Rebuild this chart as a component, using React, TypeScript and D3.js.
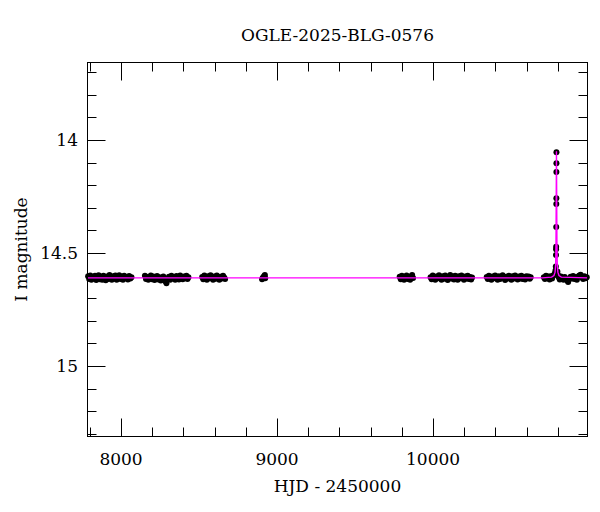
import React from "react";
import * as d3 from "d3";

// OGLE light curve: HJD - 2450000 vs I magnitude
const title = "OGLE-2025-BLG-0576";
const xLabel = "HJD - 2450000";
const yLabel = "I magnitude";

const xTickLabels = [8000, 9000, 10000];
const yTickLabels = [14, 14.5, 15];

// observations per season [hjd, mag]
const season1: [number, number][] = [
  [7789, 14.603], [7796, 14.615], [7803, 14.6], [7810, 14.618], [7818, 14.607], [7825, 14.612],
  [7833, 14.601], [7841, 14.62], [7848, 14.609], [7856, 14.599], [7864, 14.616], [7872, 14.605],
  [7879, 14.619], [7887, 14.601], [7894, 14.611], [7902, 14.621], [7910, 14.604], [7918, 14.615],
  [7926, 14.598], [7933, 14.61], [7941, 14.618], [7949, 14.603], [7956, 14.613], [7964, 14.6],
  [7972, 14.619], [7980, 14.607], [7988, 14.599], [7996, 14.615], [8004, 14.604], [8012, 14.618],
  [8020, 14.601], [8028, 14.611], [8036, 14.606], [8044, 14.617], [8052, 14.602], [8060, 14.613],
  [8067, 14.608],
];
const season2: [number, number][] = [
  [8153, 14.601], [8160, 14.615], [8167, 14.606], [8175, 14.619], [8183, 14.608], [8191, 14.6],
  [8199, 14.616], [8207, 14.604], [8215, 14.62], [8223, 14.61], [8231, 14.602], [8239, 14.617],
  [8247, 14.607], [8255, 14.622], [8263, 14.611], [8271, 14.604], [8279, 14.619], [8286, 14.626],
  [8291, 14.634], [8299, 14.614], [8307, 14.605], [8315, 14.618], [8323, 14.601], [8331, 14.612],
  [8339, 14.606], [8347, 14.619], [8355, 14.602], [8363, 14.61], [8371, 14.617], [8379, 14.6],
  [8387, 14.609], [8395, 14.616], [8403, 14.604], [8411, 14.612], [8419, 14.601], [8426, 14.615],
  [8432, 14.607],
];
const season3: [number, number][] = [
  [8520, 14.606], [8527, 14.616], [8534, 14.6], [8542, 14.61], [8550, 14.619], [8558, 14.603],
  [8566, 14.612], [8574, 14.599], [8582, 14.609], [8590, 14.618], [8598, 14.604], [8606, 14.614],
  [8614, 14.6], [8622, 14.61], [8630, 14.619], [8638, 14.605], [8646, 14.613], [8654, 14.601],
  [8661, 14.609], [8667, 14.615],
];
const season4: [number, number][] = [
  [8904, 14.616], [8908, 14.611], [8913, 14.606], [8918, 14.602], [8922, 14.598], [8924, 14.612],
];
const season5: [number, number][] = [
  [9786, 14.605], [9793, 14.616], [9800, 14.601], [9807, 14.612], [9814, 14.619], [9822, 14.606],
  [9830, 14.6], [9838, 14.615], [9846, 14.608], [9853, 14.618], [9860, 14.603], [9866, 14.598],
  [9872, 14.611],
];
const season6: [number, number][] = [
  [9984, 14.607], [9991, 14.616], [9998, 14.6], [10006, 14.61], [10014, 14.619], [10022, 14.604],
  [10030, 14.612], [10038, 14.599], [10046, 14.609], [10054, 14.618], [10062, 14.603], [10070, 14.614],
  [10078, 14.6], [10086, 14.61], [10094, 14.62], [10102, 14.606], [10110, 14.598], [10118, 14.613],
  [10126, 14.604], [10134, 14.617], [10142, 14.601], [10150, 14.609], [10158, 14.619], [10166, 14.603],
  [10174, 14.612], [10182, 14.6], [10190, 14.608], [10198, 14.618], [10206, 14.604], [10214, 14.613],
  [10222, 14.601], [10230, 14.615], [10237, 14.606], [10244, 14.617], [10250, 14.609],
];
const season7: [number, number][] = [
  [10344, 14.606], [10351, 14.615], [10358, 14.601], [10366, 14.61], [10374, 14.619], [10382, 14.604],
  [10390, 14.612], [10398, 14.6], [10406, 14.609], [10414, 14.618], [10422, 14.603], [10430, 14.615],
  [10438, 14.607], [10446, 14.599], [10454, 14.61], [10462, 14.62], [10470, 14.605], [10478, 14.613],
  [10486, 14.601], [10494, 14.609], [10502, 14.618], [10510, 14.603], [10518, 14.613], [10526, 14.6],
  [10534, 14.608], [10542, 14.617], [10550, 14.604], [10558, 14.613], [10566, 14.601], [10574, 14.615],
  [10582, 14.606], [10590, 14.617], [10598, 14.603], [10606, 14.61], [10613, 14.604], [10620, 14.614],
  [10626, 14.608],
];
const season8: [number, number][] = [
  [10710, 14.607], [10717, 14.615], [10724, 14.601], [10731, 14.61], [10739, 14.604], [10747, 14.617],
  [10755, 14.603], [10763, 14.613], [10770, 14.6], [10776, 14.598], [10781, 14.59], [10785, 14.578],
  [10787, 14.56], [10788, 14.509], [10788.5, 14.484], [10789, 14.472], [10789.5, 14.385], [10790, 14.283],
  [10790.3, 14.258], [10790.6, 14.142], [10790.8, 14.103], [10791, 14.054], [10793, 14.59], [10797, 14.582],
  [10801, 14.597], [10806, 14.608], [10812, 14.617], [10820, 14.604], [10828, 14.613], [10836, 14.619],
  [10844, 14.606], [10852, 14.615], [10860, 14.622], [10866, 14.628], [10874, 14.615], [10882, 14.605],
  [10890, 14.613], [10898, 14.602], [10906, 14.615], [10914, 14.607], [10922, 14.618], [10930, 14.604],
  [10938, 14.6], [10946, 14.596], [10954, 14.609], [10962, 14.615], [10970, 14.603], [10978, 14.612],
  [10985, 14.607],
];

const observations = [
  ...season1, ...season2, ...season3, ...season4,
  ...season5, ...season6, ...season7, ...season8,
];

// fitted model
const modelTimes = [7785, 10700, 10760, 10775, 10782, 10786, 10788, 10789.5, 10791, 10792.5, 10794, 10796, 10800, 10807, 10822, 10990];
const modelMags = [14.61, 14.61, 14.607, 14.6, 14.585, 14.55, 14.45, 14.25, 14.05, 14.25, 14.45, 14.55, 14.585, 14.6, 14.607, 14.61];

const App = () => {
  const width = 600;
  const height = 512;
  const left = 87.5, right = 587.5, top = 62.5, bottom = 436.5;

  const x = d3.scaleLinear().domain([7785, 10990]).range([left, right]);
  const y = d3.scaleLinear().domain([13.655, 15.313]).range([62, 436.7]);

  const xMinor = x.ticks(16);
  const yMinor = y.ticks(17);

  const line = d3.line<number>()
    .x((d, i) => x(modelTimes[i]))
    .y((d) => y(d));

  const font = "'DejaVu Serif', serif";
  const majLen = 18, minLen = 9;

  return (
    <svg width={width} height={height} style={{ position: "absolute", left: 0, top: 0 }}
      fontFamily={font}>
      <rect x={0} y={0} width={width} height={height} fill="#fff" />
      <text x={(left + right) / 2} y={41} textAnchor="middle" fontSize={17}>{title}</text>

      {/* ticks */}
      <g stroke="#000" strokeWidth={1}>
        {xMinor.map((t) => {
          const len = xTickLabels.includes(t) ? majLen : minLen;
          const px = Math.round(x(t)) + 0.5;
          return (
            <g key={"xt" + t}>
              <line x1={px} x2={px} y1={bottom} y2={bottom - len} />
              <line x1={px} x2={px} y1={top} y2={top + len} />
            </g>
          );
        })}
        {yMinor.map((t) => {
          const len = yTickLabels.some((v) => Math.abs(v - t) < 1e-6) ? majLen : minLen;
          const py = Math.round(y(t)) + 0.5;
          return (
            <g key={"yt" + t}>
              <line x1={left} x2={left + len} y1={py} y2={py} />
              <line x1={right} x2={right - len} y1={py} y2={py} />
            </g>
          );
        })}
      </g>

      {/* observations */}
      <g fill="#000">
        {observations.map(([t, m], i) => (
          <circle key={i} cx={x(t)} cy={y(m)} r={3} />
        ))}
      </g>

      {/* model */}
      <path d={line(modelMags) ?? ""} fill="none" stroke="#ff00ff" strokeWidth={1.4} />

      <rect x={left} y={top} width={right - left} height={bottom - top} fill="none" stroke="#000" strokeWidth={1} />

      {xTickLabels.map((t) => (
        <text key={"xl" + t} x={x(t)} y={465} textAnchor="middle" fontSize={17}>{t}</text>
      ))}
      {yTickLabels.map((t) => (
        <text key={"yl" + t} x={78} y={y(t) + 6} textAnchor="end" fontSize={17}>{t}</text>
      ))}

      <text x={(left + right) / 2} y={492} textAnchor="middle" fontSize={17}>{xLabel}</text>
      <text transform={`translate(27, ${(top + bottom) / 2}) rotate(-90)`} textAnchor="middle" fontSize={17}>{yLabel}</text>
    </svg>
  );
};

export default App;
